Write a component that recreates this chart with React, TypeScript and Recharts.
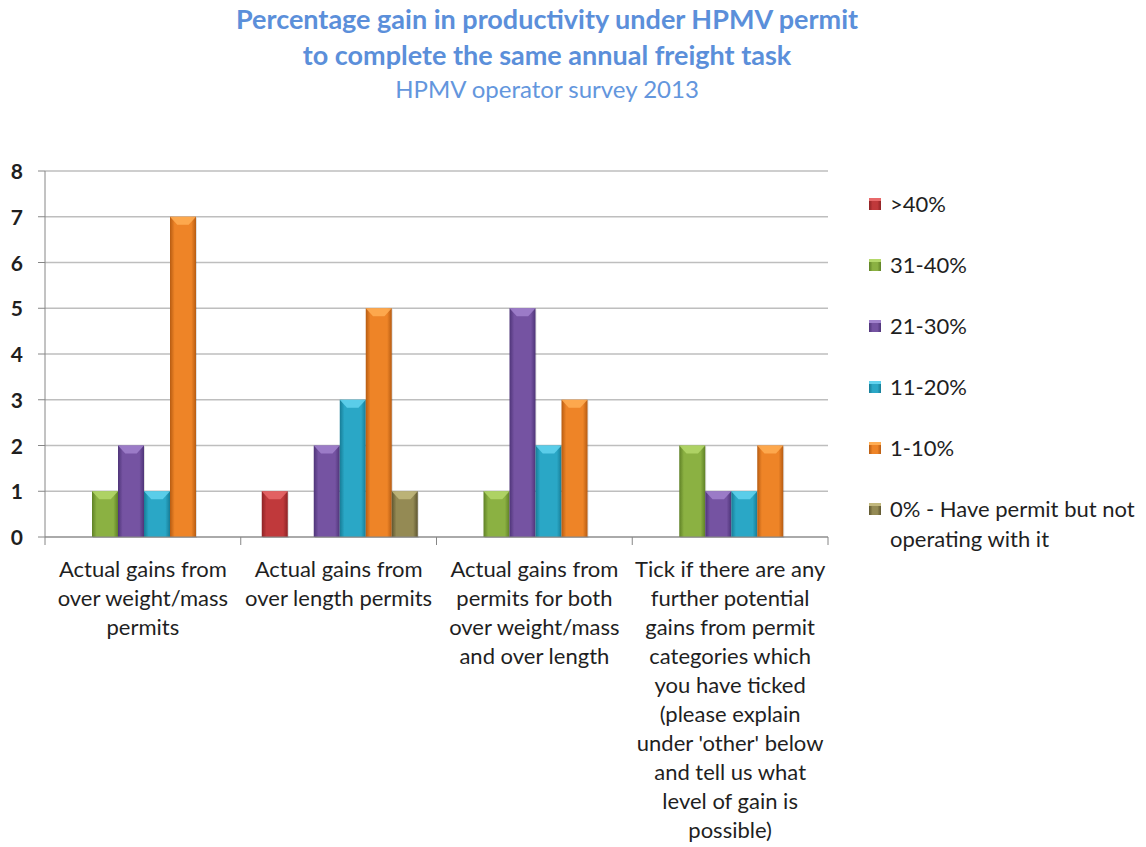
import React from 'react'
import { BarChart, Bar, XAxis, YAxis, CartesianGrid } from 'recharts'

const categories = [
  'Actual gains from\nover weight/mass\npermits',
  'Actual gains from\nover length permits',
  'Actual gains from\npermits for both\nover weight/mass\nand over length',
  "Tick if there are any\nfurther potential\ngains from permit\ncategories which\nyou have ticked\n(please explain\nunder 'other' below\nand tell us what\nlevel of gain is\npossible)",
]

const over40 = [0, 1, 0, 0]
const gain31to40 = [1, 0, 1, 2]
const gain21to30 = [2, 2, 5, 1]
const gain11to20 = [1, 3, 2, 1]
const gain1to10 = [7, 5, 3, 2]
const gainZero = [0, 1, 0, 0]

const yTicks = [0, 1, 2, 3, 4, 5, 6, 7, 8]

const series = [
  { key: 'over40', label: '>40%', values: over40, color: '#C0393B', light: '#E8696A', dark: '#8E2325' },
  { key: 'g31', label: '31-40%', values: gain31to40, color: '#8BB142', light: '#B4D86A', dark: '#5F8126' },
  { key: 'g21', label: '21-30%', values: gain21to30, color: '#7553A2', light: '#A283CE', dark: '#4E3478' },
  { key: 'g11', label: '11-20%', values: gain11to20, color: '#2AA7C6', light: '#63D3EE', dark: '#177C96' },
  { key: 'g1', label: '1-10%', values: gain1to10, color: '#EE8427', light: '#FFAE55', dark: '#B75C12' },
  { key: 'g0', label: '0% - Have permit but not\noperating with it', values: gainZero, color: '#948A54', light: '#C2B87E', dark: '#5E5630' },
]

const data = categories.map((name, i) => {
  const row: Record<string, string | number> = { name }
  series.forEach(s => { row[s.key] = s.values[i] })
  return row
})

const PLOT_LEFT = 45
const PLOT_RIGHT = 828
const BAND = (PLOT_RIGHT - PLOT_LEFT) / categories.length
const FONT = 'Lato, "Open Sans", sans-serif'

function bevelShape(s: typeof series[number]) {
  return (props: any) => {
    const { x, y, width, height, index } = props
    if (!height || height <= 0) return <g />
    const id = `grad-${s.key}-${index}`
    const bev = Math.min(8, height / 2)
    return (
      <g>
        <defs>
          <linearGradient id={id} x1="0" y1="0" x2="1" y2="0">
            <stop offset="0" stopColor={s.dark} />
            <stop offset="0.18" stopColor={s.color} />
            <stop offset="0.5" stopColor={s.color} />
            <stop offset="0.82" stopColor={s.color} />
            <stop offset="1" stopColor={s.dark} />
          </linearGradient>
        </defs>
        <rect x={x + 1} y={y + 1} width={width} height={height} fill="#000" opacity={0.12} />
        <rect x={x} y={y} width={width} height={height} fill={`url(#${id})`} />
        <polygon
          points={`${x},${y} ${x + width},${y} ${x + width * 0.72},${y + bev} ${x + width * 0.28},${y + bev}`}
          fill={s.light}
          opacity={0.85}
        />
      </g>
    )
  }
}

const XTick = (props: any) => {
  const { x, y, payload, index } = props
  const lines = String(payload.value).split('\n')
  return (
    <g>
      <line x1={x - BAND / 2} y1={y} x2={x - BAND / 2} y2={y + 8} stroke="#868686" />
      {index === categories.length - 1 && (
        <line x1={x + BAND / 2} y1={y} x2={x + BAND / 2} y2={y + 8} stroke="#868686" />
      )}
      <text x={x} y={y + 40} textAnchor="middle" fontFamily={FONT} fontSize={22} fill="#1F1F1F">
        {lines.map((l, i) => (
          <tspan key={i} x={x} dy={i === 0 ? 0 : 29}>{l}</tspan>
        ))}
      </text>
    </g>
  )
}

const YTick = (props: any) => {
  const { x, y, payload } = props
  return (
    <g>
      <line x1={x - 7} y1={y} x2={x} y2={y} stroke="#868686" />
      <text x={x - 22} y={y + 8} textAnchor="end" fontFamily={FONT} fontSize={21} fontWeight={700} fill="#1F1F1F">
        {payload.value}
      </text>
    </g>
  )
}

export default function App() {
  return (
    <div style={{ position: 'fixed', left: 0, top: 0, width: 1146, height: 847, background: '#fff', fontFamily: FONT }}>
      <div style={{ position: 'absolute', left: 0, top: 1, width: 1094, textAlign: 'center', color: '#5B8FDA' }}>
        <div style={{ fontSize: 27, fontWeight: 700, lineHeight: '36px' }}>Percentage gain in productivity under HPMV permit</div>
        <div style={{ fontSize: 27, fontWeight: 700, lineHeight: '36px' }}>to complete the same annual freight task</div>
        <div style={{ fontSize: 24, lineHeight: '32px', color: '#6396DD' }}>HPMV operator survey 2013</div>
      </div>

      <div style={{ position: 'absolute', left: 0, top: 0 }}>
        <BarChart
          width={1146}
          height={847}
          data={data}
          margin={{ top: 171, right: 1146 - PLOT_RIGHT, bottom: 0, left: 0 }}
          barCategoryGap={21}
          barGap={0}
        >
          <CartesianGrid vertical={false} stroke="#BEBEBE" strokeWidth={1.5} />
          <XAxis
            dataKey="name"
            height={310}
            interval={0}
            tickLine={false}
            tickSize={0}
            tickMargin={0}
            axisLine={{ stroke: '#868686' }}
            tick={<XTick />}
          />
          <YAxis
            width={PLOT_LEFT}
            domain={[0, 8]}
            ticks={yTicks}
            interval={0}
            tickLine={false}
            tickSize={0}
            tickMargin={0}
            axisLine={{ stroke: '#868686' }}
            tick={<YTick />}
          />
          {series.map(s => (
            <Bar key={s.key} dataKey={s.key} fill={s.color} shape={bevelShape(s)} isAnimationActive={false} />
          ))}
        </BarChart>
      </div>

      <div style={{ position: 'absolute', left: 869, top: 189, fontSize: 22, color: '#1F1F1F' }}>
        {series.map(s => (
          <div key={s.key} style={{ display: 'flex', alignItems: 'flex-start', height: 61.1 }}>
            <div
              style={{
                width: 12,
                height: 12,
                marginTop: 9,
                marginRight: 9,
                flexShrink: 0,
                background: `linear-gradient(to right, ${s.dark}, ${s.color} 30%, ${s.color} 70%, ${s.dark})`,
                borderTop: `3px solid ${s.light}`,
                boxSizing: 'border-box',
              }}
            />
            <div style={{ whiteSpace: 'pre', lineHeight: '30px' }}>{s.label}</div>
          </div>
        ))}
      </div>
    </div>
  )
}
